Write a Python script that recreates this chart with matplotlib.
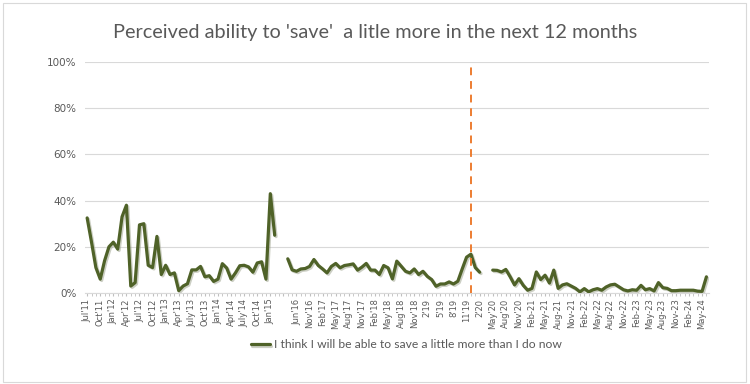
import numpy as np
import matplotlib
matplotlib.use('Agg')
import matplotlib.pyplot as plt
import matplotlib.patheffects as pe
from matplotlib.patches import Rectangle

# share of people saying they can save a little more (%), one value per category, gaps as nan
seg_2011_2015 = [32.5, 22, 11, 6, 14, 20, 22, 19, 33, 38,
                 3, 4.5, 29.5, 30, 12, 11, 24.5, 8, 12, 8,
                 8.7, 1, 3, 4, 10, 10, 11.5, 7, 7.5, 5,
                 6, 12.7, 10.8, 6, 8.7, 11.8, 12, 11.3, 9, 13,
                 13.5, 6, 43, 25]
gap_1 = [np.nan, np.nan]
seg_2016_2020 = [14.8, 10, 9.4, 10.4, 10.6, 11.5, 14.5, 11.9, 10.4, 8.7,
                 11.5, 12.8, 10.9, 11.9, 12.2, 12.6, 9.9, 11.2, 12.8, 9.9,
                 9.9, 8, 11.9, 10.9, 6.1, 13.8, 11.6, 9.4, 8.7, 10.4,
                 8, 9.4, 7.2, 5.8, 2.9, 3.9, 3.9, 4.8, 3.9, 5.1,
                 10.4, 15.5, 16.8, 11, 9]
gap_2 = [np.nan, np.nan]
seg_2020_2024 = [9.9, 9.8, 9.1, 10.2, 7, 3.5, 6.2, 3.3, 1.2, 2,
                 9.1, 5.8, 7.7, 4.3, 9.9, 2, 3.5, 4, 3, 2,
                 0.5, 1.9, 0.5, 1.4, 1.9, 1.2, 2.6, 3.5, 3.8, 2.6,
                 1.4, 0.9, 1.4, 1.2, 3.3, 1.4, 1.9, 0.9, 4.5, 2.3,
                 2, 1, 1, 1.2, 1.2, 1.2, 1.2, 0.8, 0.7, 7]

tick_labels = ["Jul'11", "Oct'11", "Jan'12", "Apr'12", "Jul'12", "Oct'12", "Jan'13", "Apr'13",
               "July'13", "Oct'13", "Jan'14", "Apr'14", "July'14", "Oct'14", "Jan'15", "",
               "Jun'16", "Nov'16", "Feb'17", "May'17", "Aug'17", "Nov'17", "Feb'18", "May'18",
               "Aug'18", "Nov'18", "2'19", "5'19", "8'19", "11'19", "2'20",
               "May'20", "Aug'20", "Nov'20", "Feb-21", "May-21", "Aug-21", "Nov-21", "Feb-22",
               "May-22", "Aug-22", "Nov-22", "Feb-23", "May-23", "Aug-23", "Nov-23", "Feb-24", "May-24"]
marker_cat = 88  # Nov '19 peak, dashed marker

values = np.array(seg_2011_2015 + gap_1 + seg_2016_2020 + gap_2 + seg_2020_2024) / 100
cats = np.arange(len(values))

grey = '#595959'
fig = plt.figure(figsize=(7.5, 3.84), dpi=100)
fig.patches.append(Rectangle((0.004, 0.006), 0.99, 0.985, transform=fig.transFigure,
                             fill=False, edgecolor='#d9d9d9', linewidth=0.8))
ax = fig.add_axes([0.1133, 0.237, 0.8315, 0.6015])

ax.plot(cats, values, color='#4f6228', linewidth=2.3, solid_joinstyle='round',
        solid_capstyle='round', label='I think I will be able to save a little more than I do now',
        path_effects=[pe.SimpleLineShadow(offset=(1, -1), shadow_color='#9aa08a', alpha=0.5),
                      pe.Normal()], zorder=3)
ax.axvline(marker_cat, ymin=0, ymax=1, color='#ed7d31', linestyle=(0, (4, 3)), linewidth=1.4, zorder=4)

ax.set_xlim(-0.5, len(values) - 0.5)
ax.set_ylim(0, 1)
ax.set_yticks(np.arange(0, 1.01, 0.2))
ax.set_yticklabels(['%d%%' % (v * 100) for v in np.arange(0, 1.01, 0.2)])
ax.grid(axis='y', color='#d9d9d9', linewidth=0.8)
ax.set_axisbelow(True)

ax.set_xticks(np.arange(0, len(values), 3))
ax.set_xticklabels(tick_labels, rotation=90, fontsize=6, color=grey,
                   family=['Liberation Sans Narrow', 'DejaVu Sans'])
ax.set_xticks(cats, minor=True)
ax.tick_params(axis='x', which='both', length=2, color='#bfbfbf', pad=2)
ax.tick_params(axis='y', length=0, labelsize=7.5, labelcolor=grey, pad=6)

for s in ['top', 'right', 'left']:
    ax.spines[s].set_visible(False)
ax.spines['bottom'].set_color('#d9d9d9')

fig.text(0.5, 0.915, "Perceived ability to 'save'  a litle more in the next 12 months",
         ha='center', va='center', fontsize=14.3, color=grey, family='Lato')

ax.legend(loc='center', bbox_to_anchor=(0.515, -0.225), frameon=False,
          handlelength=1.6, handletextpad=0.3, labelcolor=grey, prop={'family': 'Lato', 'size': 8.7})

fig.savefig('out.png', dpi=100)
